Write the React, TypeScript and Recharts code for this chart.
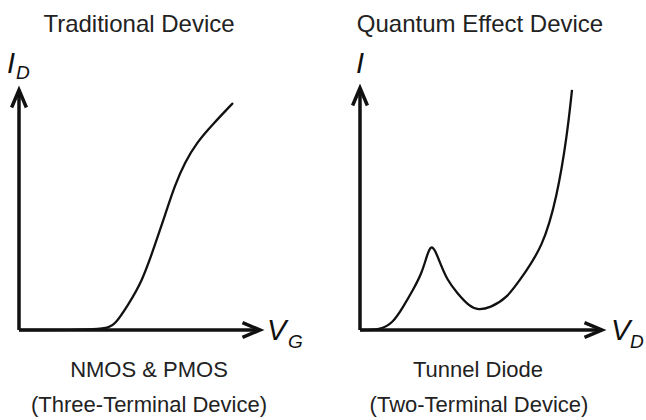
import React from "react"
import { LineChart, Line, XAxis, YAxis, ReferenceLine } from "recharts"

// Traditional device: drain current vs gate voltage (arbitrary units 0..10)
const mosVoltage = [0, 3.57, 3.98, 4.52, 5.1, 5.64, 6.06, 6.47, 6.89, 7.39, 8.01, 8.88]
const mosCurrent = [0, 0, 0.21, 1.04, 2.0, 3.54, 4.79, 6.04, 7.0, 7.83, 8.54, 9.46]

// Tunnel diode: current vs voltage (arbitrary units 0..10)
const tdVoltage = [0, 0.83, 1.36, 1.78, 2.19, 2.56, 2.77, 2.93, 3.1, 3.31, 3.6, 4.01, 4.55, 4.88, 5.37, 6.07, 6.61, 7.56, 8.14, 8.55, 8.76]
const tdCurrent = [0, 0, 0.29, 0.95, 1.65, 2.36, 3.1, 3.5, 3.31, 2.77, 2.07, 1.53, 0.95, 0.83, 0.91, 1.32, 2.07, 3.43, 5.5, 7.98, 9.92]

const mosData = mosVoltage.map((v, i) => ({ v, i: mosCurrent[i] }))
const tdData = tdVoltage.map((v, i) => ({ v, i: tdCurrent[i] }))

const INK = "#111111"
const FONT = "'Liberation Sans', Arial, Helvetica, sans-serif"

// axis line with an open arrowhead at the (x2, y2) end
const ArrowShape = (props: any) => {
  const { x1, y1, x2, y2 } = props
  const ang = Math.atan2(y2 - y1, x2 - x1)
  const len = 19
  const spread = 0.4
  const ax = x2 - len * Math.cos(ang - spread)
  const ay = y2 - len * Math.sin(ang - spread)
  const bx = x2 - len * Math.cos(ang + spread)
  const by = y2 - len * Math.sin(ang + spread)
  return (
    <g>
      <line x1={x1} y1={y1} x2={x2} y2={y2} stroke={INK} strokeWidth={3.5} />
      <path
        d={`M${ax},${ay} L${x2},${y2} L${bx},${by}`}
        fill="none"
        stroke={INK}
        strokeWidth={3.5}
        strokeLinejoin="miter"
      />
    </g>
  )
}

function Panel({ data, margin }: { data: any[]; margin: any }) {
  return (
    <LineChart width={323} height={420} data={data} margin={margin}>
      <XAxis type="number" dataKey="v" domain={[0, 10]} hide />
      <YAxis type="number" domain={[0, 10]} hide />
      <ReferenceLine
        segment={[{ x: 0, y: 0 }, { x: 0, y: 10 }]}
        ifOverflow="visible"
        shape={ArrowShape}
      />
      <ReferenceLine
        segment={[{ x: 0, y: 0 }, { x: 10, y: 0 }]}
        ifOverflow="visible"
        shape={ArrowShape}
      />
      <Line
        type="basis"
        dataKey="i"
        stroke={INK}
        strokeWidth={2.3}
        dot={false}
        isAnimationActive={false}
      />
    </LineChart>
  )
}

export default function App() {
  return (
    <div style={{ position: "absolute", left: 0, top: 0, width: 646, height: 420, background: "#fff" }}>
      <div style={{ position: "absolute", left: 0, top: 0 }}>
        <Panel data={mosData} margin={{ top: 90, right: 63, bottom: 90, left: 19 }} />
      </div>
      <div style={{ position: "absolute", left: 323, top: 0 }}>
        <Panel data={tdData} margin={{ top: 88, right: 44, bottom: 90, left: 37 }} />
      </div>
      <svg
        width={646}
        height={420}
        style={{ position: "absolute", left: 0, top: 0, pointerEvents: "none" }}
        fontFamily={FONT}
      >
        <g fill="#222" fontSize={24} textAnchor="middle">
          <text x={139} y={32}>Traditional Device</text>
          <text x={480} y={32}>Quantum Effect Device</text>
        </g>
        <g fill="#222" fontSize={22} textAnchor="middle">
          <text x={149} y={377}>NMOS &amp; PMOS</text>
          <text x={149} y={412}>(Three-Terminal Device)</text>
          <text x={478} y={377}>Tunnel Diode</text>
          <text x={479} y={412}>(Two-Terminal Device)</text>
        </g>
        <g fill={INK} fontStyle="italic">
          <text x={7} y={73} fontSize={29}>I</text>
          <text x={16} y={79} fontSize={19}>D</text>
          <text x={356} y={73} fontSize={29}>I</text>
          <text x={267} y={340} fontSize={29}>V</text>
          <text x={288} y={348} fontSize={19}>G</text>
          <text x={611} y={340} fontSize={29}>V</text>
          <text x={630} y={348} fontSize={19}>D</text>
        </g>
      </svg>
    </div>
  )
}
